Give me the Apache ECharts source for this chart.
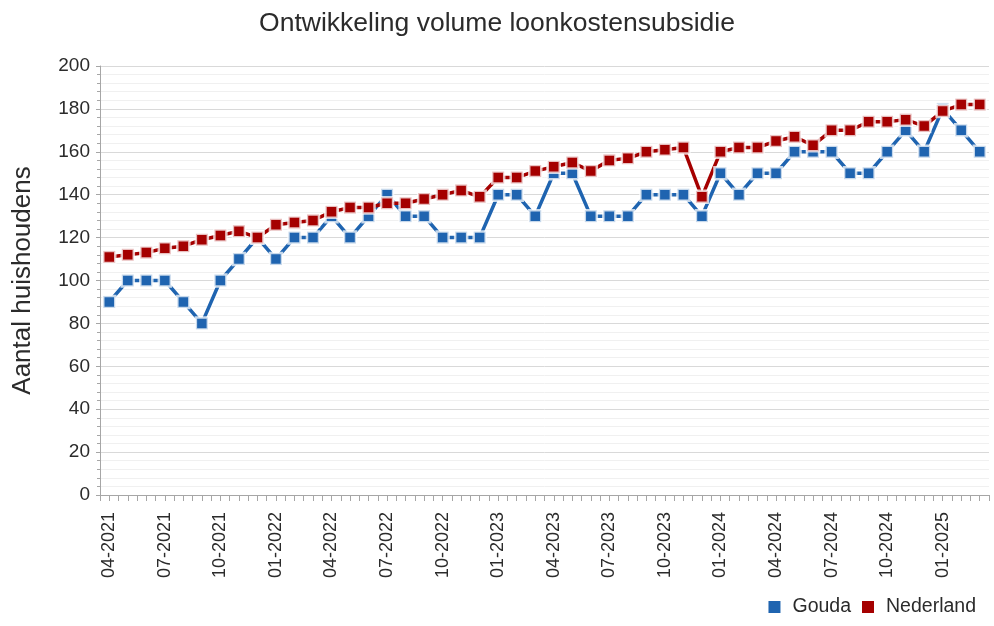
<!DOCTYPE html>
<html>
<head>
<meta charset="utf-8">
<script src="https://cdn.jsdelivr.net/npm/echarts@6/dist/echarts.min.js"></script>
<style>
  html, body { margin: 0; padding: 0; background: #fff; }
  #chart { width: 994px; height: 626px; }
</style>
</head>
<body>
<div id="chart"></div>
<script>
// maanden 04-2021 t/m 03-2025
const months = [
    '04-2021', '05-2021', '06-2021', '07-2021', '08-2021', '09-2021', '10-2021', '11-2021', '12-2021',
    '01-2022', '02-2022', '03-2022', '04-2022', '05-2022', '06-2022', '07-2022', '08-2022', '09-2022',
    '10-2022', '11-2022', '12-2022', '01-2023', '02-2023', '03-2023', '04-2023', '05-2023', '06-2023',
    '07-2023', '08-2023', '09-2023', '10-2023', '11-2023', '12-2023', '01-2024', '02-2024', '03-2024',
    '04-2024', '05-2024', '06-2024', '07-2024', '08-2024', '09-2024', '10-2024', '11-2024', '12-2024',
    '01-2025', '02-2025', '03-2025'
];
const gouda = [
    90, 100, 100, 100, 90, 80, 100, 110, 120,
    110, 120, 120, 130, 120, 130, 140, 130, 130,
    120, 120, 120, 140, 140, 130, 150, 150, 130,
    130, 130, 140, 140, 140, 130, 150, 140, 150,
    150, 160, 160, 160, 150, 150, 160, 170, 160,
    180, 170, 160
];
const nederland = [
    111, 112, 113, 115, 116, 119, 121, 123, 120,
    126, 127, 128, 132, 134, 134, 136, 136, 138,
    140, 142, 139, 148, 148, 151, 153, 155, 151,
    156, 157, 160, 161, 162, 139, 160, 162, 162,
    165, 167, 163, 170, 170, 174, 174, 175, 172,
    179, 182, 182
];
// halve maanden, alleen voor de streepjes onder de x-as
const tickSlots = new Array(months.length * 2).fill('');

const textColor = '#2b2b2b';
const font = 'Liberation Sans, Arial, sans-serif';

let chart = echarts.init(document.getElementById('chart'));

function lineSeries(name, data, color) {
    return {
        name: name,
        type: 'line',
        data: data,
        symbol: 'rect',
        symbolSize: 12,
        showSymbol: true,
        lineStyle: { color: color, width: 3.5 },
        itemStyle: {
            color: color,
            borderColor: 'rgba(255,255,255,0.75)',
            borderWidth: 2.5
        },
        emphasis: { disabled: true },
        animation: false
    };
}

let option = {
    backgroundColor: '#fff',
    title: {
        text: 'Ontwikkeling volume loonkostensubsidie',
        left: 'center',
        top: 5,
        textStyle: { fontFamily: font, fontSize: 26.5, fontWeight: 'normal', color: textColor }
    },
    legend: {
        right: 13,
        bottom: 4,
        icon: 'rect',
        itemWidth: 12,
        itemHeight: 12,
        itemGap: 11,
        itemStyle: { borderWidth: 0 },
        textStyle: { fontFamily: font, fontSize: 19.5, color: textColor, padding: [0, 0, 0, 7] },
        data: ['Gouda', 'Nederland']
    },
    grid: {
        left: 100,
        right: 5,
        top: 66,
        bottom: 131
    },
    xAxis: [
        {
            type: 'category',
            data: months,
            boundaryGap: true,
            axisLine: { lineStyle: { color: '#a6a6a6', width: 1 } },
            axisTick: { show: false },
            axisLabel: {
                interval: 2,
                rotate: 90,
                margin: 17,
                fontFamily: font,
                fontSize: 18,
                color: textColor
            },
            splitLine: { show: false }
        },
        {
            type: 'category',
            data: tickSlots,
            position: 'bottom',
            boundaryGap: true,
            axisLine: { show: false },
            axisTick: { show: true, interval: 0, length: 6, lineStyle: { color: '#a6a6a6' } },
            axisLabel: { show: false },
            splitLine: { show: false }
        }
    ],
    yAxis: {
        type: 'value',
        min: 0,
        max: 200,
        interval: 20,
        name: 'Aantal huishoudens',
        nameLocation: 'middle',
        nameGap: 64,
        nameTextStyle: { fontFamily: font, fontSize: 26, color: textColor },
        axisLine: { show: true, lineStyle: { color: '#a6a6a6' } },
        axisTick: { show: true, length: 4, lineStyle: { color: '#a6a6a6' } },
        minorTick: { show: true, splitNumber: 5, length: 3, lineStyle: { color: '#a6a6a6' } },
        axisLabel: { margin: 10, fontFamily: font, fontSize: 19, color: textColor },
        splitLine: { show: true, lineStyle: { color: '#d9d9d9', width: 1 } },
        minorSplitLine: { show: true, lineStyle: { color: '#f0f0f0', width: 1 } }
    },
    series: [
        lineSeries('Gouda', gouda, '#1F64B0'),
        lineSeries('Nederland', nederland, '#A50000')
    ]
};
chart.setOption(option);
</script>
</body>
</html>
